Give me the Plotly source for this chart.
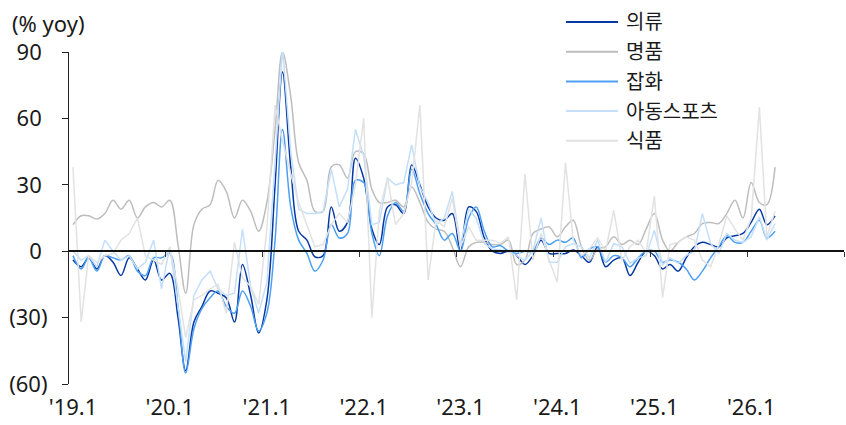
import pandas as pd
import plotly.graph_objects as go

# ---------------- data (monthly, % yoy, 2019.1 - 2026.4) ----------------
start_month = "2019-01"
n_months = 88

apparel = [  # 의류
    -4, -7, -3, -8, -2, -5, -11, -3, -8, -13, -4, -13,
    -10, -30, -54, -32, -25, -18, -19, -21, -32, -6, -20, -37,
    -22, 30, 81, 38, 9, 5, -2.5, -2, 20, 9, 13, 42,
    33, 10, 3, 20, 21, 17, 39, 30, 20, 15, 14, 17,
    0, 20, 18, 6, 0, -1, 0, -2, -6, -2, 5, -1,
    -1, -1, 0.5, -2, -5, 2, -7, -4, -3, -11, -5, 0,
    -2, -8, -6, -9, -3, 2, 4, 3, 2, 6, 7, 8,
    13, 19, 12, 16,
]
luxury = [  # 명품
    12, 16, 16, 14.5, 17, 23, 19, 23, 15, 20, 22, 20,
    23, 3, -19, 12, 19, 21, 32, 27, 15, 23, 18, 9,
    22, 55, 90, 70, 40, 32, 18, 18, 38, 39, 33, 45,
    44, 28, 22, 22, 23, 20, 29, 22, 13, 10, 9, 2,
    -7, 2, 4, 4, 3, 3, 5, -6, -4, 8, 10, 11,
    6.5, 11, 14, 2, -4, 1, 2, 6.5, 3, 5, 3, 10,
    17, 5, 0, 4, 6.5, 8, 12.5, 13, 12.5, 17, 23, 15,
    31, 22, 21, 38,
]
goods = [  # 잡화
    -2, -8, -3, -9, -2, -3, -4, -2, -9, -11, -3, -3,
    -1, -25, -55, -35, -26, -21, -18, -25, -28, -18, -25, -36,
    -28, 5, 55, 20, 5, -1, -9, -4, 12, 6, 8, 32,
    31, 8, -2, 16, 22, 18, 37, 26, 17, 12, 5, 8,
    0, 15, 20, 9, 2, 2.5, 0, -1, 0, 0, 6, 3,
    5, 4, 6, -3, 1, 2, -5, -2, -3, -7, -3, 0,
    0, -5, -4, -5, -8, -13, -9, -3, 2, 7, 4, 4,
    9, 14, 6, 9,
]
kids_sports = [  # 아동스포츠
    0, -4, -2, -7, 5, 0, -4, -2, -8, -5, 5, -17,
    2, -25, -50, -20, -13, -9, -17, -20, -19, 10, -16, -28,
    -14, 40, 92, 45, 19, 17, 17, 18, 37, 20, 28, 55,
    43, 12, 13, 33, 30, 31, 48, 29, 22, 12, 15, 27,
    3, 19, 15, 3.5, 1, 0.5, 0, -2, -4, 0, 15, -5,
    -5, 2, 3.5, 2, -3, 5, -5, 3.5, 2, -5.5, -3, -2,
    9.5, -6, -3, -5.5, -2, 0, 17, 3.5, -1, 8, 5, 4,
    6.5, 15.5, 5, 12.5,
]
food = [  # 식품
    38, -32, -2, -5, -2, -1, 5, 8, 15, -2, -4, -6,
    2, -17, -39, -22, -20, -17, -15, -28, 4, -12, -16, -24,
    10, 66, 50, 35, 22, 12, 2, 3, 12, 17, 13, 30,
    60, -30, 18, 33, 12, 17, 31, 66, -13, 14, 11, 24,
    2, 11, 5, 5, 5, 3.5, 6.5, -22, 35, -4, 8, -4,
    -14, 40, 5, -2, 1, 6, 0, 18.5, -4, 2, 5, -1,
    25, -21, 3, 4, 6.5, 5, -4, -7, 3, 16, 10, 5,
    15, 65, 6.5, 18,
]

series_names = ["의류", "명품", "잡화", "아동스포츠", "식품"]
series_values = [apparel, luxury, goods, kids_sports, food]

y_tickvals = [90, 60, 30, 0, -30, -60]
y_ticktext = ["90\u00a0", "60\u00a0", "30\u00a0", "0\u00a0", "(30)", "(60)"]
x_years = [2019, 2020, 2021, 2022, 2023, 2024, 2025, 2026]
x_ticktext = ["'19.1", "'20.1", "'21.1", "'22.1", "'23.1", "'24.1", "'25.1", "'26.1"]

# ---------------- styles ----------------
colors = ["#0638a3", "#bdbdbd", "#4c9ff2", "#c4dffa", "#e2e2e2"]
shapes_ = ["spline", "spline", "spline", "linear", "linear"]
widths = [1.5, 1.5, 1.5, 1.5, 1.5]
FONT = "Noto Sans, Noto Sans CJK KR, sans-serif"
TXT = "#1a1a1a"
NUM_SIZE = 22
KR_SIZE = 20

# month points plotted at the middle of each month
dates = pd.date_range(start_month + "-01", periods=n_months, freq="MS") + pd.Timedelta(days=15)

fig = go.Figure()
n_series = len(series_names)
for k, (name, vals, c, sh, w) in enumerate(zip(series_names, series_values, colors, shapes_, widths)):
    # the last (top-most) series sits on the overlay x-axis that carries the zero line
    fig.add_trace(go.Scatter(
        x=dates, y=vals, name=name, mode="lines",
        line=dict(color=c, width=w, shape=sh, smoothing=1.0),
        showlegend=False, hoverinfo="skip",
        xaxis="x2" if k == n_series - 1 else "x",
    ))

tick_dates = [f"{y}-01-01" for y in x_years]
x_range = ["2019-01-01", "2027-01-01"]
zero_pos = (0 - (-60)) / (90 - (-60))

W, H = 846, 425
ML, MR, MT, MB = 69, 2, 52, 41

fig.update_layout(
    template="none",
    width=W, height=H,
    margin=dict(l=ML, r=MR, t=MT, b=MB, pad=0),
    paper_bgcolor="white", plot_bgcolor="white",
    font=dict(family=FONT, size=NUM_SIZE, color=TXT),
    xaxis=dict(
        type="date", range=x_range, tickvals=tick_dates, ticktext=x_ticktext,
        showline=False, showgrid=False, zeroline=False, ticks="", automargin=False,
        tickfont=dict(size=NUM_SIZE, color=TXT), ticklabelshift=4, ticklabelstandoff=8,
    ),
    xaxis2=dict(
        type="date", range=x_range, overlaying="x", anchor="free", position=zero_pos,
        side="bottom", matches="x", automargin=False,
        tickvals=[f"{y}-01-01" for y in x_years[1:]] + ["2027-01-01"],
        showticklabels=False, ticks="outside", ticklen=5, tickwidth=1.2, tickcolor="#333",
        showline=True, linecolor="#111", linewidth=1.6, showgrid=False, zeroline=False,
    ),
    yaxis=dict(
        range=[-60, 90], tickvals=y_tickvals, ticktext=y_ticktext, automargin=False,
        showline=True, linecolor="#222", linewidth=1.2,
        ticks="outside", ticklen=6, tickcolor="#222", tickwidth=1.2,
        showgrid=False, zeroline=False, tickfont=dict(size=NUM_SIZE, color=TXT),
        ticklabelstandoff=10,
    ),
)

# unit label
plot_w = W - ML - MR
plot_h = H - MT - MB
fig.add_annotation(text="(% yoy)", xref="paper", yref="paper",
                   x=(10 - ML) / plot_w, y=1 + (MT - 23) / plot_h,
                   xanchor="left", yanchor="middle", showarrow=False,
                   font=dict(size=NUM_SIZE, color=TXT, family=FONT))

# custom legend (line sample + text)
leg_x0, leg_x1, leg_tx = 566, 618, 624
leg_y0, leg_gap = 22, 29.7
for k, (name, c) in enumerate(zip(series_names, colors)):
    ypx = leg_y0 + k * leg_gap
    yp = (H - MB - ypx) / plot_h
    fig.add_shape(type="line", xref="paper", yref="paper",
                  x0=(leg_x0 - ML) / plot_w, x1=(leg_x1 - ML) / plot_w, y0=yp, y1=yp,
                  line=dict(color=c, width=2))
    fig.add_annotation(text=name, xref="paper", yref="paper",
                       x=(leg_tx - ML) / plot_w, y=yp, xanchor="left", yanchor="middle",
                       showarrow=False, font=dict(size=KR_SIZE, color=TXT, family=FONT))

fig.write_html("out.html", config={"displayModeBar": False},
               post_script="document.body.style.margin='0px';")
